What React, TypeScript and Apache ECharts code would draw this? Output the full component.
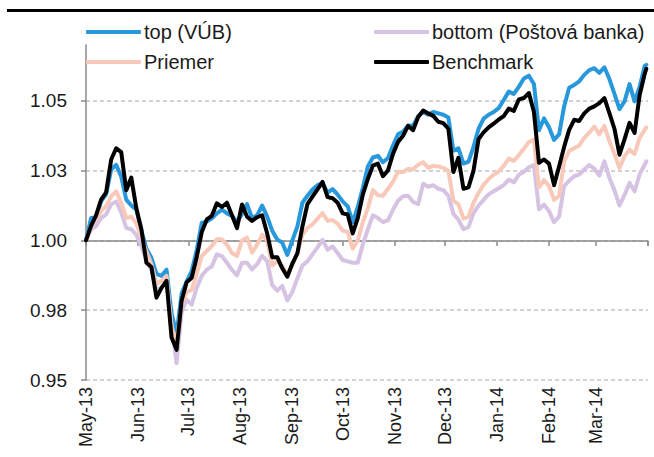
import React, { useEffect, useRef } from "react";
import * as echarts from "echarts";

const DATES = [
  "2013-05-01","2013-05-04","2013-05-07","2013-05-10","2013-05-13","2013-05-16","2013-05-19","2013-05-22","2013-05-25","2013-05-28","2013-05-31",
  "2013-06-03","2013-06-06","2013-06-09","2013-06-12","2013-06-15","2013-06-18","2013-06-21","2013-06-24","2013-06-27","2013-06-30",
  "2013-07-03","2013-07-06","2013-07-09","2013-07-12","2013-07-15","2013-07-18","2013-07-21","2013-07-24","2013-07-27","2013-07-30",
  "2013-08-02","2013-08-05","2013-08-08","2013-08-11","2013-08-14","2013-08-17","2013-08-20","2013-08-23","2013-08-26","2013-08-29",
  "2013-09-01","2013-09-04","2013-09-07","2013-09-10","2013-09-13","2013-09-16","2013-09-19","2013-09-22","2013-09-25","2013-09-28",
  "2013-10-01","2013-10-04","2013-10-07","2013-10-10","2013-10-13","2013-10-16","2013-10-19","2013-10-22","2013-10-25","2013-10-28","2013-10-31",
  "2013-11-03","2013-11-06","2013-11-09","2013-11-12","2013-11-15","2013-11-18","2013-11-21","2013-11-24","2013-11-27","2013-11-30",
  "2013-12-03","2013-12-06","2013-12-09","2013-12-12","2013-12-15","2013-12-18","2013-12-21","2013-12-24","2013-12-27","2013-12-30",
  "2014-01-02","2014-01-05","2014-01-08","2014-01-11","2014-01-14","2014-01-17","2014-01-20","2014-01-23","2014-01-26","2014-01-29",
  "2014-02-01","2014-02-04","2014-02-07","2014-02-10","2014-02-13","2014-02-16","2014-02-19","2014-02-22","2014-02-25","2014-02-28",
  "2014-03-03","2014-03-06","2014-03-09","2014-03-12","2014-03-15","2014-03-18","2014-03-21","2014-03-24","2014-03-27","2014-03-30","2014-03-31",
];

const TOP_VUB = [
  1.000, 1.008, 1.0082, 1.014, 1.0165, 1.0254, 1.0271, 1.0228, 1.0146, 1.0125,
  1.011, 1.0035, 0.997, 0.9938, 0.988, 0.9873, 0.9895, 0.9738, 0.9665, 0.981,
  0.9853, 0.989, 0.9965, 1.0063, 1.0068, 1.0079, 1.0097, 1.011, 1.0097, 1.0088,
  1.0066, 1.0095, 1.013, 1.008, 1.009, 1.0125, 1.0085, 1.0035, 1.0003, 0.9992,
  0.9948, 1.000, 1.005, 1.0135, 1.016, 1.0182, 1.0198, 1.0205, 1.0171, 1.0184,
  1.0164, 1.014, 1.0122, 1.0065, 1.012, 1.0188, 1.0265, 1.0297, 1.0303, 1.028,
  1.0295, 1.034, 1.038, 1.039, 1.0412, 1.0411, 1.0445, 1.046, 1.045, 1.046,
  1.0455, 1.045, 1.044, 1.0321, 1.033, 1.0275, 1.0282, 1.0335, 1.040, 1.0436,
  1.045, 1.046, 1.0474, 1.0503, 1.0533, 1.0525, 1.055, 1.058, 1.059, 1.056,
  1.0395, 1.0437, 1.0405, 1.036, 1.038, 1.048, 1.0547, 1.0557, 1.057, 1.0593,
  1.061, 1.0617, 1.060, 1.062, 1.0578, 1.0525, 1.047, 1.0498, 1.056, 1.0498,
  1.055, 1.0625, 1.0629,
];

const BOTTOM_PB = [
  1.000, 1.004, 1.0051, 1.008, 1.0093, 1.0129, 1.014, 1.010, 1.0045, 1.004,
  1.002, 0.998, 0.993, 0.9893, 0.9822, 0.9831, 0.9849, 0.970, 0.956, 0.9745,
  0.9787, 0.977, 0.983, 0.9873, 0.9895, 0.9907, 0.995, 0.9944, 0.992, 0.9895,
  0.9875, 0.992, 0.992, 0.9896, 0.9915, 0.9945, 0.9925, 0.984, 0.982, 0.9837,
  0.9785, 0.9815, 0.9864, 0.991, 0.9925, 0.995, 0.9975, 1.0002, 0.9967, 0.9978,
  0.9955, 0.993, 0.9925, 0.992, 0.992, 0.9985, 1.004, 1.009, 1.008, 1.0066,
  1.0072, 1.011, 1.0142, 1.0158, 1.016, 1.0138, 1.013, 1.0203, 1.0192, 1.0198,
  1.0185, 1.018, 1.016, 1.0095, 1.0074, 1.004, 1.0048, 1.0098, 1.0125, 1.0145,
  1.0165, 1.0176, 1.0187, 1.0198, 1.0218, 1.0208, 1.0235, 1.0246, 1.0262, 1.027,
  1.0112, 1.0128, 1.0105, 1.0065, 1.0085, 1.0194, 1.0214, 1.023, 1.0236, 1.0254,
  1.027, 1.0257, 1.0232, 1.0283, 1.0224, 1.018, 1.0125, 1.0163, 1.0206, 1.0176,
  1.0236, 1.0271, 1.0283,
];

const PRIEMER = [
  1.000, 1.0051, 1.0075, 1.0105, 1.0123, 1.0158, 1.0176, 1.0135, 1.008, 1.0085,
  1.006, 1.0012, 0.996, 0.9915, 0.9845, 0.9855, 0.9873, 0.969, 0.9635, 0.977,
  0.9815, 0.9823, 0.988, 0.9944, 0.9962, 0.998, 1.0004, 1.0004, 0.9985, 0.9955,
  0.9944, 1.000, 1.001, 0.9956, 0.9985, 1.002, 1.000, 0.991, 0.9926, 0.9908,
  0.9878, 0.9912, 0.9954, 1.002, 1.0045, 1.0057, 1.0078, 1.0098, 1.007, 1.0073,
  1.006, 1.0035, 1.003, 0.997, 1.000, 1.0065, 1.0115, 1.018, 1.0162, 1.016,
  1.0185, 1.021, 1.0246, 1.0245, 1.0256, 1.0255, 1.0271, 1.028, 1.026, 1.0267,
  1.0265, 1.026, 1.025, 1.0142, 1.0129, 1.0078, 1.0085, 1.0135, 1.017, 1.0199,
  1.022, 1.0235, 1.0247, 1.0267, 1.0293, 1.0285, 1.0305, 1.0328, 1.0352, 1.036,
  1.019, 1.0216, 1.0195, 1.0145, 1.016, 1.0283, 1.032, 1.033, 1.034, 1.0367,
  1.0386, 1.0408, 1.038, 1.041, 1.0355, 1.031, 1.026, 1.0301, 1.0325, 1.031,
  1.0367, 1.0396, 1.0405,
];

const BENCHMARK = [
  1.000, 1.0052, 1.009, 1.0146, 1.0172, 1.029, 1.033, 1.0316, 1.018, 1.0225,
  1.0115, 1.004, 0.992, 0.9905, 0.9795, 0.983, 0.9855, 0.9652, 0.9608, 0.9785,
  0.985, 0.9866, 0.994, 1.003, 1.0075, 1.0088, 1.0133, 1.012, 1.0135, 1.009,
  1.0044, 1.0129, 1.0085, 1.007, 1.0083, 1.009, 1.0025, 0.994, 0.994, 0.990,
  0.987, 0.9917, 0.9954, 1.005, 1.013, 1.0157, 1.0183, 1.021, 1.0155, 1.0151,
  1.0135, 1.0097, 1.0093, 1.0025, 1.008, 1.0164, 1.022, 1.0268, 1.0275, 1.023,
  1.0251, 1.031, 1.0353, 1.0375, 1.041, 1.0395, 1.0442, 1.0465, 1.0455, 1.0446,
  1.0425, 1.042, 1.040, 1.0245, 1.0296, 1.0185, 1.019, 1.025, 1.0363, 1.0387,
  1.0405, 1.0418, 1.0433, 1.0445, 1.0472, 1.0464, 1.0505, 1.051, 1.0528, 1.046,
  1.0278, 1.029, 1.0275, 1.0198, 1.0265, 1.0335, 1.0396, 1.0432, 1.0428, 1.0455,
  1.0472, 1.048, 1.0492, 1.051, 1.0456, 1.040, 1.0307, 1.0362, 1.0421, 1.0385,
  1.052, 1.0596, 1.0615,
];

const MONTH_LABELS = [
  "May-13", "Jun-13", "Jul-13", "Aug-13", "Sep-13", "Oct-13",
  "Nov-13", "Dec-13", "Jan-14", "Feb-14", "Mar-14",
];
const Y_TICKS = [0.95, 0.975, 1.0, 1.025, 1.05];
const SERIES_NAMES = ["top (VÚB)", "bottom (Poštová banka)", "Priemer", "Benchmark"];

const X_MIN = "2013-05-01";
const X_MAX = "2014-04-01";
const FONT = "'Liberation Sans', Arial, sans-serif";

export default function App() {
  const ref = useRef<HTMLDivElement>(null);

  useEffect(() => {
    if (!ref.current) return;
    const chart = echarts.init(ref.current, null, { renderer: "svg" });
    const pair = (vals: number[]) => DATES.map((d, i) => [d, vals[i]]);
    const monthLabel = (v: number) => {
      const d = new Date(v);
      const idx = (d.getFullYear() - 2013) * 12 + d.getMonth() - 4;
      return MONTH_LABELS[idx] ?? "";
    };
    const baseTime = {
      type: "time" as const,
      min: X_MIN,
      max: X_MAX,
      splitNumber: 11,
      minInterval: 28 * 86400000,
      maxInterval: 31 * 86400000,
      splitLine: { show: false },
    };
    const legendBase = {
      icon: "roundRect",
      itemWidth: 55,
      itemHeight: 4,
      itemGap: 0,
      padding: 0,
      textStyle: { fontSize: 20, color: "#1a1a1a", fontFamily: FONT, padding: [0, 0, 0, -2] },
    };
    const lineSeries = (name: string, vals: number[], color: string, width: number) => ({
      name,
      type: "line" as const,
      data: pair(vals),
      showSymbol: false,
      symbol: "none",
      xAxisIndex: 0,
      lineStyle: { color, width, join: "round", cap: "round" },
      itemStyle: { color },
    });

    chart.setOption({
      animation: false,
      textStyle: { fontFamily: FONT },
      grid: { left: 86, right: 6, top: 45, bottom: 77, containLabel: false },
      legend: [
        { ...legendBase, data: [SERIES_NAMES[0]], left: 86, top: 22 },
        { ...legendBase, data: [SERIES_NAMES[1]], left: 374, top: 22 },
        { ...legendBase, data: [SERIES_NAMES[2]], left: 86, top: 52 },
        { ...legendBase, data: [SERIES_NAMES[3]], left: 374, top: 52 },
      ],
      xAxis: [
        {
          ...baseTime,
          position: "bottom",
          axisLine: { show: false },
          axisTick: { show: false },
          axisLabel: {
            rotate: 90,
            margin: 7,
            fontSize: 18,
            color: "#1a1a1a",
            fontFamily: FONT,
            formatter: monthLabel,
            showMaxLabel: false,
            hideOverlap: false,
          },
        },
        {
          ...baseTime,
          position: "bottom",
          offset: -139,
          axisLine: { show: true, lineStyle: { color: "#8a8a8a", width: 1.5 } },
          axisTick: { show: true, inside: false, length: 5, lineStyle: { color: "#8a8a8a", width: 1.5 } },
          axisLabel: { show: false },
        },
      ],
      yAxis: {
        type: "value",
        min: 0.95,
        max: 1.07,
        interval: 0.025,
        axisLine: { show: true, lineStyle: { color: "#8a8a8a", width: 1.5 } },
        axisTick: {
          show: true,
          length: 5,
          customValues: Y_TICKS,
          lineStyle: { color: "#8a8a8a", width: 1.5 },
        },
        axisLabel: {
          margin: 19,
          fontSize: 19,
          color: "#1a1a1a",
          fontFamily: FONT,
          customValues: Y_TICKS,
          formatter: (v: number) => (Math.round(v * 100 + 1e-6) / 100).toFixed(2),
        },
        splitLine: {
          show: true,
          lineStyle: { color: "#c4c4c4", width: 1.5, type: [4, 3] },
        },
      },
      graphic: [
        {
          type: "rect",
          shape: { x: 7, y: 9, width: 647, height: 3 },
          style: { fill: "#000" },
          silent: true,
        },
      ],
      series: [
        lineSeries(SERIES_NAMES[0], TOP_VUB, "#2898dd", 4),
        lineSeries(SERIES_NAMES[1], BOTTOM_PB, "#d6c2e2", 4),
        lineSeries(SERIES_NAMES[2], PRIEMER, "#f8c8b8", 4),
        lineSeries(SERIES_NAMES[3], BENCHMARK, "#000000", 4),
      ],
    });
    return () => chart.dispose();
  }, []);

  return (
    <div
      ref={ref}
      style={{ position: "fixed", left: 0, top: 0, width: 654, height: 457, background: "#fff" }}
    />
  );
}
